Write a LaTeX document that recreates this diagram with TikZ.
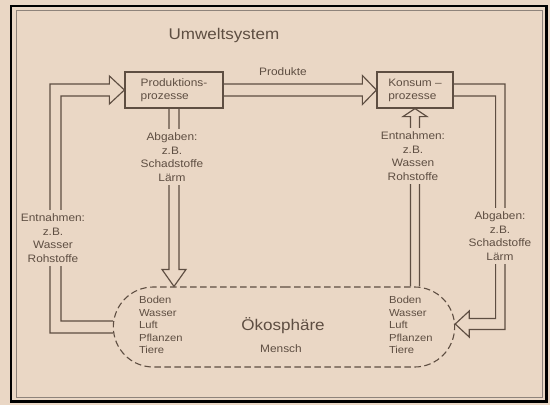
\documentclass[tikz,border=0pt]{standalone}
\usepackage{fontspec}
\setmainfont[FakeStretch=1.1]{Liberation Sans}
\usetikzlibrary{positioning, calc, shapes.misc}
\definecolor{paper}{RGB}{234,215,197}
\definecolor{ink}{RGB}{94,78,66}
\tikzset{
  proc/.style={rectangle, draw=ink, line width=1.2pt, minimum height=36pt,
               align=left, text=ink, font=\fontsize{10.8}{13}\selectfont},
  pipe/.style={draw=ink, line width=1.15pt, line join=miter},
  lbl/.style={align=center, text=ink, fill=paper, inner sep=3pt,
              font=\fontsize{10.8}{13.7}\selectfont},
  lst/.style={align=left, text=ink, anchor=west,
              font=\fontsize{10.2}{12.5}\selectfont},
  big/.style={text=ink, font=\fontsize{15.5}{18}\selectfont},
}

\begin{document}
\begin{tikzpicture}[
  x=1pt, y=-1pt,
  every node/.style={text=ink, font=\fontsize{10.8}{13}\selectfont},
  sphere/.style={rounded rectangle, draw=ink, line width=1.1pt,
                 dash pattern=on 6.5pt off 3.5pt,
                 minimum width=348pt, minimum height=80pt},
]
  % paper and frame
  \fill[paper] (0,0) rectangle (550,405);
  \draw[black, line width=2.4pt] (11,6) rectangle (546.5,401.5);
  \draw[ink!70, line width=0.8pt] (16,10.5) rectangle (542,397);

  \node[big] (title) at (224,35) {Umweltsystem};
  \node[proc, minimum width=98pt] (prod) at (174,90) {Produktions-\\prozesse};
  \node[proc, minimum width=76pt] (kons) at (415,90) {Konsum –\\prozesse};
  \node (produkte) at (283,72) {Produkte};
  \node[sphere] (oeko) at (284,327) {};
  \node[big] (oekoname) at (283,326) {Ökosphäre};
  \node (mensch) at (281,349) {Mensch};
  \node[lst] (listL) at (135.5,325) {Boden\\Wasser\\Luft\\Pflanzen\\Tiere};
  \node[lst] (listR) at (385.5,325) {Boden\\Wasser\\Luft\\Pflanzen\\Tiere};

  % Produktion -> Konsum
  \draw[pipe] ($(prod.east)+(0,-6)$) -- ($(kons.west)+(-14,-6)$) -- ++(0,-8.5)
    -- (kons.west) -- ++(-14,14.5) -- ++(0,-8.5) -- ($(prod.east)+(0,6)$);
  % Oekosphaere -> Produktion
  \draw[pipe] ($(oeko.west)+(0,6)$) -| (50,84) -- ($(prod.west)+(-15,-6)$)
    -- ++(0,-8) -- (prod.west) -- ++(-15,14) -- ++(0,-8) -| (61,321)
    -- ($(oeko.west)+(0,-6)$);
  % Produktion -> Oekosphaere
  \draw[pipe] ($(prod.south)+(-5,0)$) |- ($(prod.south |- oeko.north)+(-12,-17)$)
    -- (prod.south |- oeko.north) -- ++(12,-17) -- ++(-7,0)
    -- ($(prod.south)+(5,0)$);
  % Oekosphaere -> Konsum
  \draw[pipe] ($(kons.south |- oeko.north)+(-4.5,0)$) |- ($(kons.south)+(-12,8)$)
    -- (kons.south) -- ++(12,8) -- ++(-7.5,0)
    -- ($(kons.south |- oeko.north)+(4.5,0)$);
  % Konsum -> Oekosphaere
  \draw[pipe] ($(kons.east)+(0,-6)$) -| (505,329.5) -- ($(oeko.east)+(14,2.5)$)
    -- ++(0,7.5) -- ($(oeko.east)+(0,-3)$) -- ++(14,-13) -- ++(0,7.5)
    -| ($(kons.east)+(42,6)$) -- ($(kons.east)+(0,6)$);

  \node[lbl] (entL) at (53,238) {Entnahmen:\\z.B.\\Wasser\\Rohstoffe};
  \node[lbl] (abgM) at (172,157) {Abgaben:\\z.B.\\Schadstoffe\\Lärm};
  \node[lbl] (entR) at (413,156) {Entnahmen:\\z.B.\\Wassen\\Rohstoffe};
  \node[lbl] (abgR) at (500,236) {Abgaben:\\z.B.\\Schadstoffe\\Lärm};
\end{tikzpicture}
\end{document}
